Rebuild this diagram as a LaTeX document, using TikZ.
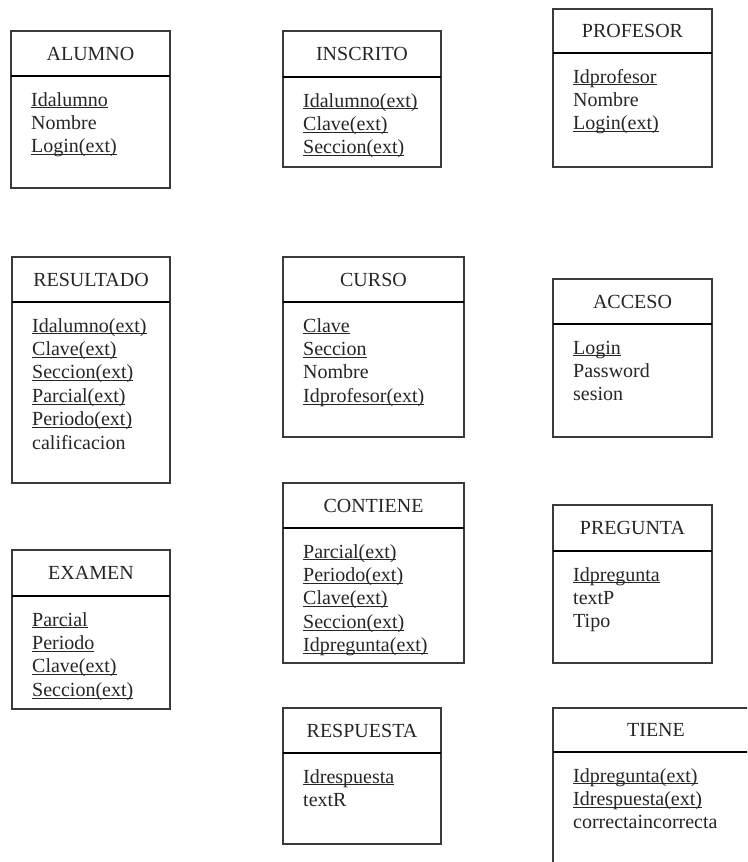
\documentclass[tikz,border=0pt]{standalone}
\usepackage{fontspec}
\setmainfont{Liberation Serif}
\definecolor{bordercol}{HTML}{3A3A3A}
\definecolor{textcol}{HTML}{262626}
\newcommand\keyattr[1]{\setbox0\hbox{#1}\rlap{\rule[-2.2pt]{\wd0}{0.9pt}}\box0}
\tikzset{
  entbox/.style={draw=bordercol, line width=1.3pt},
  entsep/.style={draw=black, line width=1.6pt},
  enttitle/.style={inner sep=0pt, anchor=center, text=textcol, font=\fontsize{20}{23.4}\selectfont},
  attr/.style={inner sep=0pt, anchor=base west, text=textcol, font=\fontsize{20}{23.4}\selectfont}
}
\newcommand\entity[7]{%
  \draw[entbox] (#2,#3) rectangle (#4,#5);
  \draw[entsep] (#2,#6) -- (#4,#6);
  \node[enttitle] (#1-t) at ({(#2+#4)/2},{(#3+#6)/2}) {#7};
}
\newcommand\attrs[4]{%
  \foreach \attrtext [count=\i] in {#4}
    \node[attr] (#1-\i) at ({#2+20},{#3+30+(\i-1)*23.4}) {\attrtext};
}
\begin{document}
\begin{tikzpicture}[x=1pt,y=-1pt]
\clip (0,0) rectangle (747,862);
\fill[white] (0,0) rectangle (747,862);
% column 1
\entity{alumno}{11}{31}{170}{188}{76}{ALUMNO}
\attrs{alumno}{11}{76}{\keyattr{Idalumno},Nombre,\keyattr{Login(ext)}}
\entity{resultado}{12}{257}{170}{483}{302}{RESULTADO}
\attrs{resultado}{12}{302}{\keyattr{Idalumno(ext)},\keyattr{Clave(ext)},\keyattr{Seccion(ext)},\keyattr{Parcial(ext)},\keyattr{Periodo(ext)},calificacion}
\entity{examen}{12}{550}{170}{709}{596}{EXAMEN}
\attrs{examen}{12}{596}{\keyattr{Parcial},\keyattr{Periodo},\keyattr{Clave(ext)},\keyattr{Seccion(ext)}}
% column 2
\entity{inscrito}{283}{31}{441}{167}{77}{INSCRITO}
\attrs{inscrito}{283}{77}{\keyattr{Idalumno(ext)},\keyattr{Clave(ext)},\keyattr{Seccion(ext)}}
\entity{curso}{283}{257}{464}{437}{302}{CURSO}
\attrs{curso}{283}{302}{\keyattr{Clave},\keyattr{Seccion},Nombre,\keyattr{Idprofesor(ext)}}
\entity{contiene}{283}{483}{464}{663}{528}{CONTIENE}
\attrs{contiene}{283}{528}{\keyattr{Parcial(ext)},\keyattr{Periodo(ext)},\keyattr{Clave(ext)},\keyattr{Seccion(ext)},\keyattr{Idpregunta(ext)}}
\entity{respuesta}{283}{708}{441}{844}{753}{RESPUESTA}
\attrs{respuesta}{283}{753}{\keyattr{Idrespuesta},textR}
% column 3
\entity{profesor}{553}{9}{712}{167}{53}{PROFESOR}
\attrs{profesor}{553}{53}{\keyattr{Idprofesor},Nombre,\keyattr{Login(ext)}}
\entity{acceso}{553}{279}{712}{437}{324}{ACCESO}
\attrs{acceso}{553}{324}{\keyattr{Login},Password,sesion}
\entity{pregunta}{553}{505}{712}{663}{551}{PREGUNTA}
\attrs{pregunta}{553}{551}{\keyattr{Idpregunta},textP,Tipo}
\draw[entbox] (553,880) -- (553,708) -- (770,708);
\draw[entsep] (553,752) -- (770,752);
\node[enttitle] (tiene-t) at (656,730) {TIENE};
\attrs{tiene}{553}{752}{\keyattr{Idpregunta(ext)},\keyattr{Idrespuesta(ext)},correctaincorrecta}
\end{tikzpicture}
\end{document}
